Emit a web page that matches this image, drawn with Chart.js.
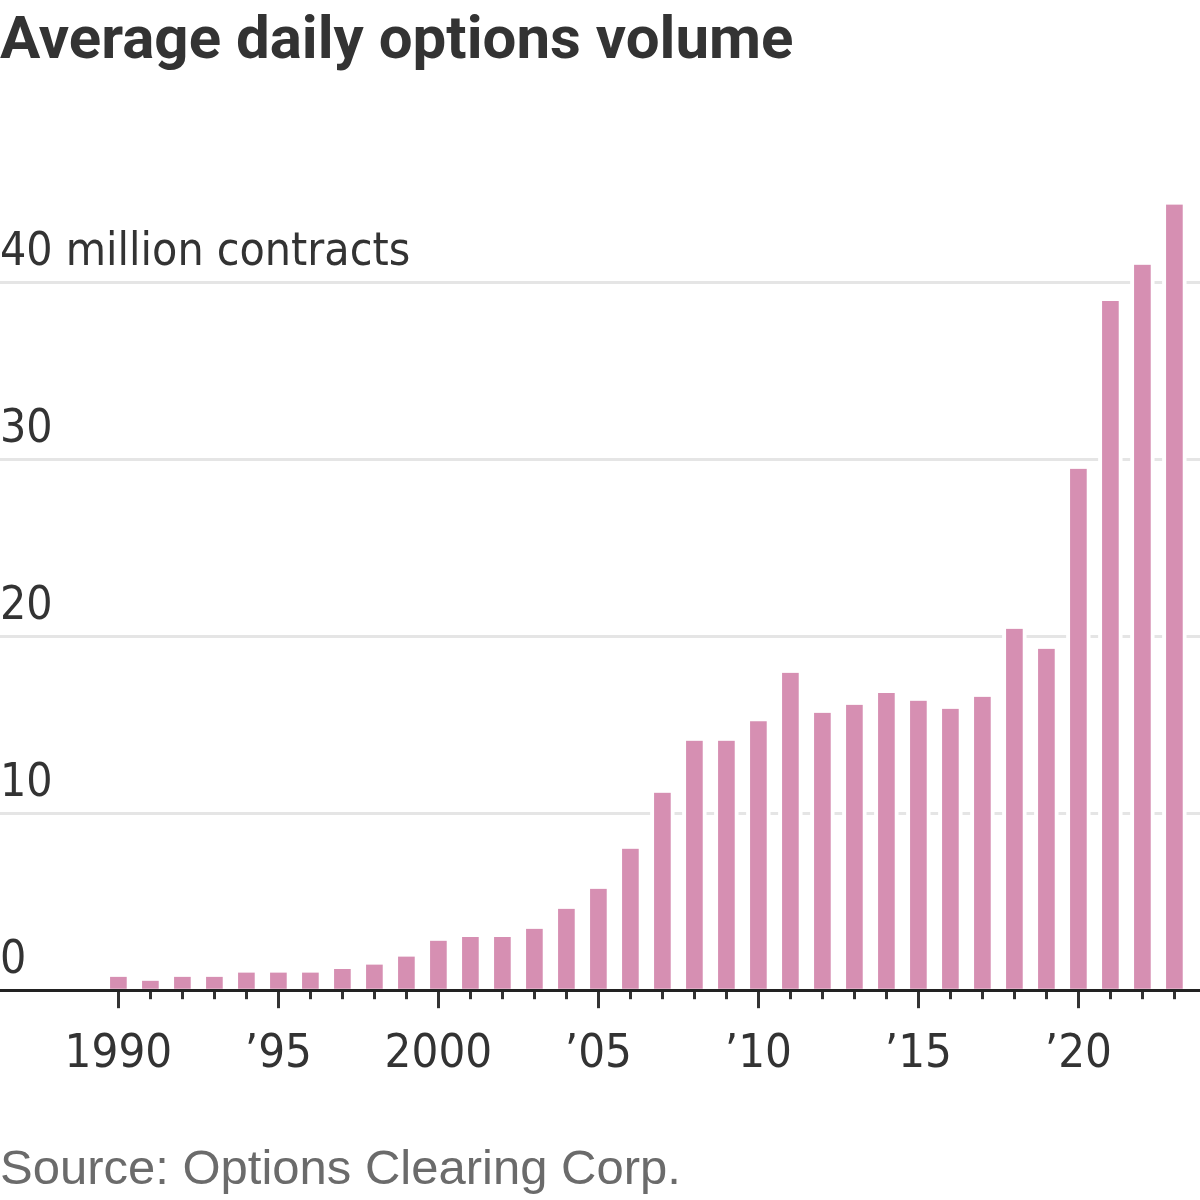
<!DOCTYPE html>
<html>
<head>
<meta charset="utf-8">
<script src="https://cdn.jsdelivr.net/npm/chart.js@4"></script>
<style>
  body { margin: 0; background: #fff; }
  canvas { display: block; }
</style>
</head>
<body>
<canvas id="chart" width="1200" height="1200" style="width:1200px;height:1200px"></canvas>
<script>
// average daily options volume, million contracts
const years = [1990, 1991, 1992, 1993, 1994, 1995, 1996, 1997, 1998, 1999,
               2000, 2001, 2002, 2003, 2004, 2005, 2006, 2007, 2008, 2009,
               2010, 2011, 2012, 2013, 2014, 2015, 2016, 2017, 2018, 2019,
               2020, 2021, 2022, 2023];
const volume = [0.76, 0.54, 0.76, 0.76, 1.0, 1.0, 1.0, 1.2, 1.45, 1.9,
                2.8, 3.0, 3.0, 3.47, 4.6, 5.73, 8.0, 11.16, 14.1, 14.1,
                15.2, 17.94, 15.68, 16.13, 16.8, 16.36, 15.9, 16.58, 20.42, 19.29,
                29.46, 38.95, 41.0, 44.4];

const yTicks = [0, 10, 20, 30, 40];
const yTickLabels = ['0', '10', '20', '30', '40 million contracts'];
const xTickYears = [1990, 1995, 2000, 2005, 2010, 2015, 2020];
const xTickLabels = ['1990', '\u201995', '2000', '\u201905', '\u201910', '\u201915', '\u201920'];

const narrow = "'Liberation Sans Narrow', 'DejaVu Sans Condensed', sans-serif";
const ink = '#333333';

const points = years.map((y, i) => ({ x: y, y: volume[i] }));

new Chart(document.getElementById('chart'), {
    type: 'bar',
    data: {
        datasets: [{
            data: points,
            backgroundColor: '#d68fb2',
            borderColor: '#ffffff',
            borderWidth: { left: 4, right: 4, top: 0, bottom: 0 },
            borderSkipped: false,
            barThickness: 24,
            xAxisID: 'x',
            yAxisID: 'y'
        }]
    },
    options: {
        responsive: false,
        animation: false,
        devicePixelRatio: 1,
        layout: { padding: 0 },
        plugins: {
            legend: { display: false },
            tooltip: { enabled: false },
            title: {
                display: true,
                text: 'Average daily options volume',
                align: 'start',
                color: ink,
                font: { family: 'Roboto', weight: 'bold', size: 60, lineHeight: 1.2 },
                padding: { top: 7, bottom: 106 }
            },
            subtitle: {
                display: true,
                position: 'bottom',
                text: 'Source: Options Clearing Corp.',
                align: 'start',
                color: '#6b6b6b',
                font: { family: "'Liberation Sans', sans-serif", size: 49, lineHeight: 1.2 },
                padding: { top: 0, bottom: 0 }
            }
        },
        scales: {
            x: {
                type: 'linear',
                position: 'bottom',
                min: 1986.3,
                max: 2023.8,
                offset: false,
                grid: {
                    offset: false,
                    drawOnChartArea: false,
                    drawTicks: true,
                    tickLength: 9,
                    tickColor: ink,
                    tickWidth: 3
                },
                border: { display: true, color: '#222222', width: 3, z: 1 },
                ticks: { display: false },
                afterBuildTicks: (scale) => {
                    scale.ticks = years.map(v => ({ value: v }));
                },
                afterFit: (scale) => { scale.height = 9; }
            },
            x2: {
                type: 'linear',
                position: 'bottom',
                min: 1986.3,
                max: 2023.8,
                offset: false,
                grid: {
                    offset: false,
                    drawOnChartArea: false,
                    drawTicks: true,
                    tickLength: 9,
                    tickColor: ink,
                    tickWidth: 3
                },
                border: { display: false },
                ticks: {
                    color: ink,
                    padding: 18,
                    maxRotation: 0,
                    autoSkip: false,
                    font: { family: narrow, size: 47, lineHeight: 1.2 },
                    callback: (value) => {
                        const i = xTickYears.indexOf(value);
                        return i >= 0 ? xTickLabels[i] : '';
                    }
                },
                afterBuildTicks: (scale) => {
                    scale.ticks = xTickYears.map(v => ({ value: v }));
                },
                afterFit: (scale) => { scale.height = 142; }
            },
            y: {
                type: 'linear',
                position: 'left',
                min: 0,
                max: 45.5,
                grid: {
                    color: '#e5e5e5',
                    lineWidth: 3,
                    drawTicks: false
                },
                border: { display: false },
                ticks: {
                    mirror: true,
                    padding: 0,
                    labelOffset: -29,
                    color: ink,
                    font: { family: narrow, size: 46, lineHeight: 1.2 },
                    callback: (value) => {
                        const i = yTicks.indexOf(value);
                        return i >= 0 ? yTickLabels[i] : '';
                    }
                },
                afterBuildTicks: (scale) => {
                    scale.ticks = yTicks.map(v => ({ value: v }));
                },
                afterFit: (scale) => { scale.width = 0; }
            }
        }
    }
});
</script>
</body>
</html>
